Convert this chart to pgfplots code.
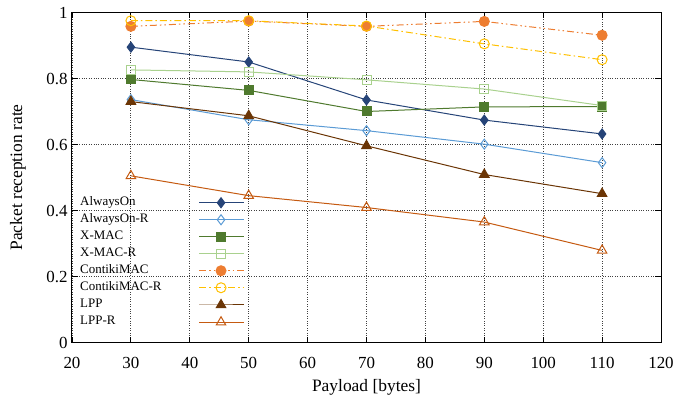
\documentclass[border=0pt]{standalone}
\usepackage{pgfplots}
\pgfplotsset{compat=1.18}
\usepackage{fontspec}
\setmainfont{Liberation Serif}

\definecolor{aon}{HTML}{264478}
\definecolor{aonr}{HTML}{5B9BD5}
\definecolor{xmac}{HTML}{4F7A2E}
\definecolor{xmacr}{HTML}{A9D18E}
\definecolor{cmac}{HTML}{ED7D31}
\definecolor{cmacr}{HTML}{FFC000}
\definecolor{lpp}{HTML}{6B3505}
\definecolor{lppr}{HTML}{C55A11}

\begin{document}
\begin{tikzpicture}
\begin{axis}[
    at={(0,0)}, anchor=south west,
    scale only axis, width=589bp, height=330bp,
    xmin=20, xmax=120, ymin=0, ymax=1,
    xtick={20,30,...,120},
    ytick={0,0.2,0.4,0.6,0.8,1},
    yticklabels={0,0.2,0.4,0.6,0.8,1},
    grid=major,
    major grid style={dotted, black!75, line width=0.9bp},
    tick align=inside, major tick length=6bp,
    tick style={black, line width=0.8bp},
    axis line style={line width=1bp},
    /pgf/number format/assume math mode=true,
    ticklabel style={font=\fontsize{17}{19}\selectfont},
    xticklabel style={yshift=-11bp},
    yticklabel style={xshift=-1bp},
    label style={font=\fontsize{17.5}{19}\selectfont},
    xlabel={Payload [bytes]},
    ylabel={Packet reception rate},
    xlabel style={at={(axis description cs:0.5,-0.136)}, anchor=center},
    ylabel style={at={(axis description cs:-0.092,0.5)}, anchor=center},
    every axis plot/.append style={line width=1bp},
    legend cell align=left,
    legend plot pos=right,
    legend image code/.code={\draw[mark repeat=2,mark phase=2] plot coordinates {(0bp,0bp)(22bp,0bp)(45bp,0bp)};},
    legend style={at={(axis cs:21.36,0.44)}, anchor=north west, draw=none, fill=none,
        inner sep=0pt, column sep=37bp, row sep=6.5bp,
        font=\fontsize{13}{14}\selectfont,
        nodes={inner sep=0pt, text height=8bp, text depth=2.5bp}},
]
\addplot[color=aon, mark=diamond*, mark size=5bp, mark options={solid}]
  coordinates {(30,0.895)(50,0.850)(70,0.735)(90,0.674)(110,0.632)};
\addplot[color=aonr, mark=diamond, mark size=5bp, mark options={solid}]
  coordinates {(30,0.736)(50,0.675)(70,0.642)(90,0.601)(110,0.545)};
\addplot[color=xmac, mark=square*, mark size=4.5bp, mark options={solid}]
  coordinates {(30,0.797)(50,0.764)(70,0.700)(90,0.714)(110,0.715)};
\addplot[color=xmacr, mark=square, mark size=4.5bp, mark options={solid}]
  coordinates {(30,0.826)(50,0.820)(70,0.796)(90,0.768)(110,0.718)};
\addplot[color=cmac, mark=*, mark size=5bp, mark options={solid},
  dash pattern=on 7bp off 3bp on 1.5bp off 3bp on 1.5bp off 3bp]
  coordinates {(30,0.958)(50,0.974)(70,0.958)(90,0.973)(110,0.931)};
\addplot[color=cmacr, mark=o, mark size=5bp, mark options={solid},
  dash pattern=on 7bp off 3bp on 1.5bp off 3bp]
  coordinates {(30,0.975)(50,0.975)(70,0.959)(90,0.905)(110,0.857)};
\addplot[color=lpp, mark=triangle*, mark size=5.5bp, mark options={solid}]
  coordinates {(30,0.730)(50,0.687)(70,0.596)(90,0.509)(110,0.451)};
\addplot[color=lppr, mark=triangle, mark size=5.5bp, mark options={solid}]
  coordinates {(30,0.505)(50,0.445)(70,0.409)(90,0.365)(110,0.279)};
\legend{AlwaysOn, AlwaysOn-R, X-MAC, X-MAC-R, ContikiMAC, ContikiMAC-R, LPP, LPP-R}
\end{axis}
\pgfresetboundingbox
\path (-72bp,-62bp) rectangle (607bp,342.5bp);
\end{tikzpicture}
\end{document}
